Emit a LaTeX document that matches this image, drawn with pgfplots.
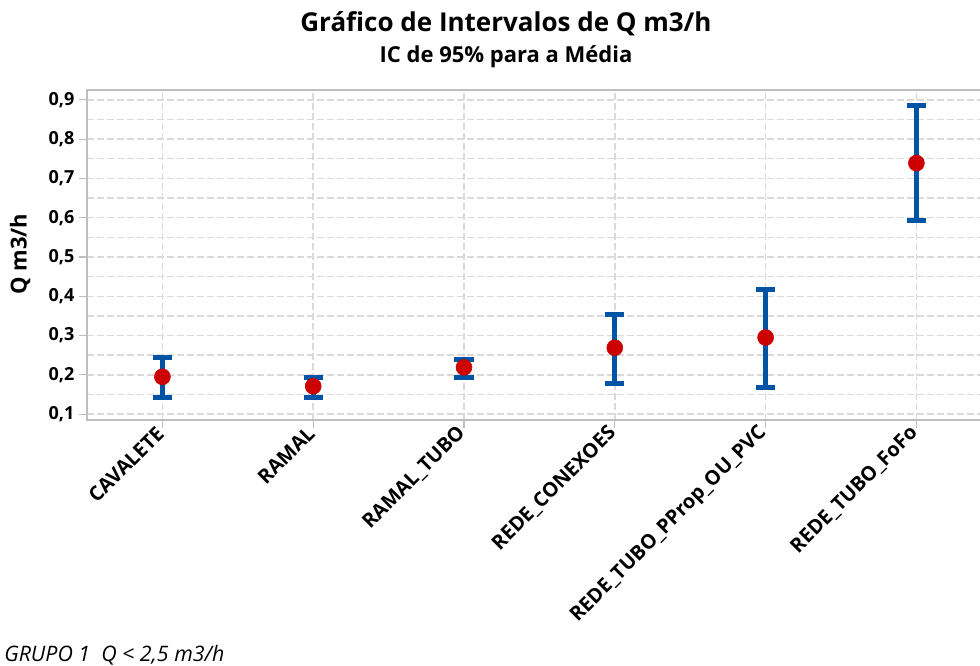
\documentclass[border=0pt]{standalone}
\usepackage{fontspec}
\setmainfont{Open Sans}
\usepackage{pgfplots}
\pgfplotsset{compat=1.18}
\usepackage{pgfplotstable}
\definecolor{mtblue}{RGB}{0,84,166}
\definecolor{mtred}{RGB}{204,0,0}
\definecolor{gridgray}{RGB}{218,218,218}
\definecolor{axgray}{RGB}{190,190,190}
\pgfplotstableread{
x mean lo hi
0 0.195 0.141 0.245
1 0.171 0.143 0.193
2 0.219 0.192 0.239
3 0.269 0.177 0.354
4 0.295 0.168 0.418
5 0.739 0.592 0.885
}\datatab
\begin{document}
\begin{tikzpicture}
\path[use as bounding box] (-65.25pt,-184.5pt) rectangle (669.75pt,315pt);
\clip (-65.25pt,-184.5pt) rectangle (669.75pt,315pt);
\begin{axis}[
  at={(0,0)}, anchor=south west,
  scale only axis, width=678.6pt, height=247.5pt,
  xmin=-0.5, xmax=5.5, ymin=0.085, ymax=0.925,
  xtick={0,...,5},
  xticklabels={CAVALETE,RAMAL,RAMAL\_TUBO,REDE\_CONEXOES,REDE\_TUBO\_PProp\_OU\_PVC,REDE\_TUBO\_FoFo},
  ytick={0.1,0.2,0.3,0.4,0.5,0.6,0.7,0.8,0.9},
  minor ytick={0.15,0.25,0.35,0.45,0.55,0.65,0.75,0.85},
  yticklabel style={/pgf/number format/.cd, use comma, fixed, fixed zerofill, precision=1, assume math mode=true},
  ticklabel style={font=\fontsize{13.5}{15}\bfseries},
  xticklabel style={rotate=45, anchor=east, font=\fontsize{15}{17}\bfseries, inner sep=2pt},
  tick pos=left, tick align=outside,
  major tick length=6pt, minor tick length=0pt,
  tick style={axgray, line width=0.8pt},
  axis line style={axgray, line width=1.2pt},
  grid=both,
  major grid style={gridgray, line width=1.1pt, dash pattern=on 5pt off 2.5pt},
  minor grid style={gridgray, line width=1.1pt, dash pattern=on 5pt off 2.5pt},
  ylabel={Q m3/h},
  ylabel style={font=\fontsize{16.5}{18}\bfseries, at={(axis description cs:-0.074,0.503)}, anchor=center},
  clip=false,
]
\addplot[draw=none, mtblue,
  error bars/.cd, y dir=both, y explicit,
  error bar style={mtblue, line width=3.75pt},
  error mark=-, error mark options={mtblue, line width=3.75pt, mark size=7.2pt, rotate=90}]
  table[x=x, y=mean, y error plus expr=\thisrow{hi}-\thisrow{mean}, y error minus expr=\thisrow{mean}-\thisrow{lo}] {\datatab};
\addplot[only marks, mark=*, mark size=6pt, mtred, mark options={draw=mtred, fill=mtred}]
  table[x=x, y=mean] {\datatab};
\end{axis}
\node[anchor=base, font=\fontsize{19.5}{22}\bfseries] at (314.25pt,291pt) {Gráfico de Intervalos de Q m3/h};
\node[anchor=base, font=\fontsize{16.5}{19}\bfseries] at (314.25pt,267.75pt) {IC de 95\% para a Média};
\node[anchor=base west, inner sep=0pt, font=\fontsize{16}{18}\itshape] at (-62.25pt,-181pt) {GRUPO 1\ \ Q < 2,5 m3/h};
\end{tikzpicture}
\end{document}
